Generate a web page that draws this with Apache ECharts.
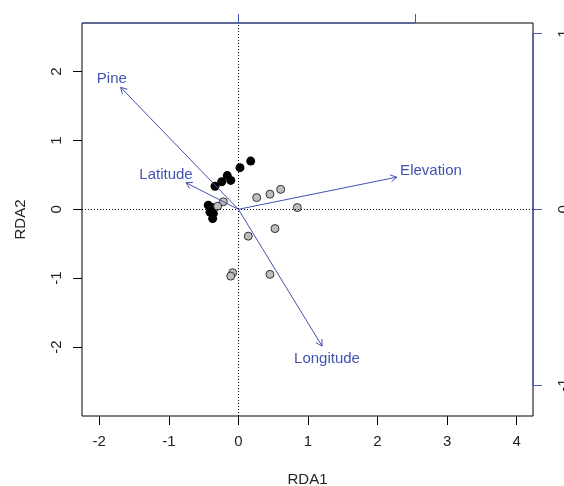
<!DOCTYPE html>
<html><head><meta charset="utf-8">
<style>html,body{margin:0;padding:0;background:#fff}#c{width:564px;height:486px}</style>
<script src="https://cdn.jsdelivr.net/npm/echarts@6/dist/echarts.min.js"></script>
</head><body><div id="c"></div>
<script>
// ---- data ----
const xTicks = [-2, -1, 0, 1, 2, 3, 4];
const yTicks = [-2, -1, 0, 1, 2];
const secXTicks = [-1, 0, 1];
const secYTicks = [-1, 0, 1];

const blackX = [0.177, 0.023, -0.16, -0.11, -0.24, -0.336, -0.433, -0.384, -0.408, -0.36, -0.37];
const blackY = [0.70, 0.605, 0.49, 0.42, 0.40, 0.335, 0.06, 0.025, -0.04, -0.06, -0.135];
const grayX = [0.263, 0.454, 0.608, 0.847, -0.217, -0.298, 0.526, 0.142, -0.082, -0.11, 0.454];
const grayY = [0.17, 0.22, 0.29, 0.025, 0.11, 0.045, -0.28, -0.39, -0.92, -0.97, -0.945];

const arrowNames = ['Pine', 'Latitude', 'Elevation', 'Longitude'];
const arrowX = [-0.667, -0.297, 0.897, 0.474];
const arrowY = [0.694, 0.151, 0.183, -0.778];
const labelX = [-0.717, -0.410, 1.091, 0.502];
const labelY = [0.742, 0.195, 0.218, -0.852];

// ---- view ----
const X_MIN = -2.248, X_MAX = 4.235, Y_MIN = -3.002, Y_MAX = 2.706;
const SX_MIN = -0.886, SX_MAX = 1.669, SY_MIN = -1.176, SY_MAX = 1.060;
const BLUE = '#4253b2';
const FONT = "'Liberation Sans', Arial, sans-serif";
const TXT = '#222';

const inRange = (arr, a, b) => arr.filter(v => v >= a && v <= b);

const chart = echarts.init(document.getElementById('c'), null, {renderer: 'canvas'});

const baseAxis = {
  type: 'value', scale: true,
  splitLine: {show: false},
  axisLine: {show: false, onZero: false}
};

const option = {
  animation: false,
  backgroundColor: '#fff',
  grid: {left: 82, top: 23, right: 31, bottom: 70, show: true, borderColor: '#000', borderWidth: 1,
         backgroundColor: 'transparent', containLabel: false, outerBoundsMode: 'none'},
  xAxis: [
    Object.assign({}, baseAxis, {
      min: X_MIN, max: X_MAX, position: 'bottom',
      name: 'RDA1', nameLocation: 'middle', nameGap: 56,
      nameTextStyle: {fontFamily: FONT, fontSize: 15, color: TXT},
      axisTick: {show: true, length: 9, inside: false, lineStyle: {color: '#000'}, customValues: xTicks},
      axisLabel: {show: true, margin: 18, fontFamily: FONT, fontSize: 15, color: TXT, customValues: xTicks, formatter: v => String(v)}
    }),
    Object.assign({}, baseAxis, {
      min: SX_MIN, max: SX_MAX, position: 'top',
      axisTick: {show: true, length: 9, lineStyle: {color: BLUE}, customValues: inRange(secXTicks, SX_MIN, SX_MAX)},
      axisLabel: {show: false}
    })
  ],
  yAxis: [
    Object.assign({}, baseAxis, {
      min: Y_MIN, max: Y_MAX, position: 'left',
      name: 'RDA2', nameLocation: 'middle', nameGap: 54, nameRotate: 90,
      nameTextStyle: {fontFamily: FONT, fontSize: 15, color: TXT},
      axisTick: {show: true, length: 9, lineStyle: {color: '#000'}, customValues: yTicks},
      axisLabel: {show: true, margin: 18, rotate: 90, fontFamily: FONT, fontSize: 15, color: TXT, customValues: yTicks, formatter: v => String(v)}
    }),
    Object.assign({}, baseAxis, {
      min: SY_MIN, max: SY_MAX, position: 'right',
      axisTick: {show: true, length: 9, lineStyle: {color: BLUE}, customValues: inRange(secYTicks, SY_MIN, SY_MAX)},
      axisLabel: {show: true, margin: 23, rotate: 90, fontFamily: FONT, fontSize: 15, color: TXT,
                  customValues: inRange(secYTicks, SY_MIN, SY_MAX), formatter: v => String(v)}
    })
  ],
  series: [
    {
      type: 'scatter', xAxisIndex: 0, yAxisIndex: 0, z: 3,
      symbol: 'circle', symbolSize: 9,
      itemStyle: {color: '#000', opacity: 1},
      data: blackX.map((x, i) => [x, blackY[i]]),
      markLine: {
        silent: true, symbol: 'none', animation: false,
        label: {show: false},
        lineStyle: {color: '#000', width: 1, type: [1, 2]},
        data: [{xAxis: 0}, {yAxis: 0}]
      }
    },
    {
      type: 'scatter', xAxisIndex: 0, yAxisIndex: 0, z: 4,
      symbol: 'circle', symbolSize: 8,
      itemStyle: {color: '#bdbdbd', borderColor: '#333', borderWidth: 1, opacity: 1},
      data: grayX.map((x, i) => [x, grayY[i]])
    },
    {
      // blue secondary axis segments (from first to last in-range tick)
      type: 'custom', xAxisIndex: 1, yAxisIndex: 1, z: 5, silent: true,
      data: [[0, 0]],
      renderItem: function (params, api) {
        const xs = [Math.max(Math.min.apply(null, secXTicks), SX_MIN), Math.min(Math.max.apply(null, secXTicks), SX_MAX)];
        const ys = [Math.max(Math.min.apply(null, secYTicks), SY_MIN), Math.min(Math.max.apply(null, secYTicks), SY_MAX)];
        const a = api.coord([xs[0], SY_MAX]), b = api.coord([xs[1], SY_MAX]);
        const c = api.coord([SX_MAX, ys[0]]), d = api.coord([SX_MAX, ys[1]]);
        return {type: 'group', children: [
          {type: 'line', shape: {x1: a[0], y1: a[1], x2: b[0], y2: b[1]}, style: {stroke: BLUE, lineWidth: 1.2}},
          {type: 'line', shape: {x1: c[0], y1: c[1], x2: d[0], y2: d[1]}, style: {stroke: BLUE, lineWidth: 1.2}}
        ]};
      }
    },
    {
      // arrows
      type: 'custom', xAxisIndex: 1, yAxisIndex: 1, z: 6, silent: true,
      data: arrowX.map((x, i) => [x, arrowY[i]]),
      renderItem: function (params, api) {
        const o = api.coord([0, 0]);
        const t = api.coord([api.value(0), api.value(1)]);
        const ang = Math.atan2(t[1] - o[1], t[0] - o[0]);
        const L = 7, sp = Math.PI / 6;
        const h1 = [t[0] - L * Math.cos(ang - sp), t[1] - L * Math.sin(ang - sp)];
        const h2 = [t[0] - L * Math.cos(ang + sp), t[1] - L * Math.sin(ang + sp)];
        return {type: 'group', children: [
          {type: 'polyline', shape: {points: [o, t]}, style: {stroke: BLUE, lineWidth: 1, fill: null}},
          {type: 'polyline', shape: {points: [h1, t, h2]}, style: {stroke: BLUE, lineWidth: 1, fill: null}}
        ]};
      }
    },
    {
      // arrow labels
      type: 'custom', xAxisIndex: 1, yAxisIndex: 1, z: 7, silent: true,
      data: labelX.map((x, i) => [x, labelY[i], i]),
      renderItem: function (params, api) {
        const p = api.coord([api.value(0), api.value(1)]);
        return {type: 'text', x: p[0], y: p[1], style: {
          text: arrowNames[api.value(2)], fill: BLUE, font: '15px ' + FONT,
          align: 'center', verticalAlign: 'middle'
        }};
      }
    }
  ]
};
chart.setOption(option);
</script>
</body></html>
